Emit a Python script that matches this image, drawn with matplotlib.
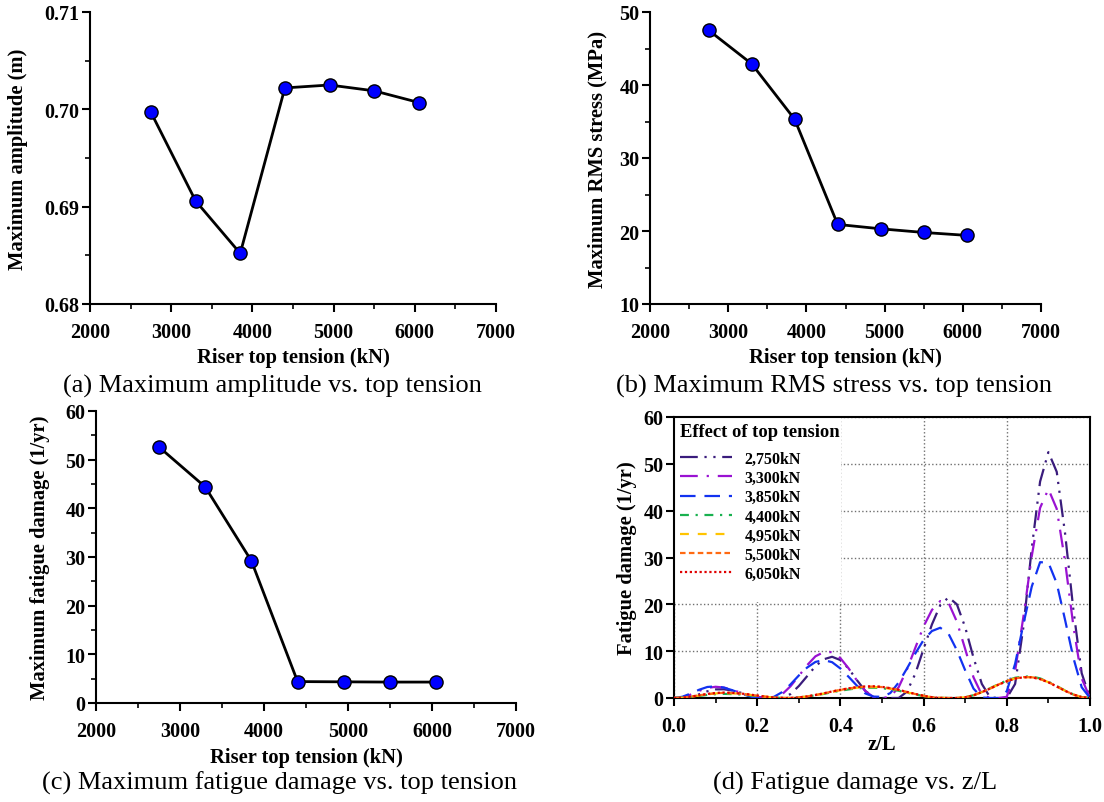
import matplotlib
matplotlib.use('Agg')
import matplotlib.pyplot as plt
import numpy as np
from matplotlib.patches import Rectangle
from matplotlib.ticker import MultipleLocator

plt.rcParams['font.family'] = ['Liberation Serif', 'DejaVu Serif']

# ---- data: panels (a)-(c) ----
tension = [2750, 3300, 3850, 4400, 4950, 5500, 6050]
max_amplitude = [0.6997, 0.6906, 0.6852, 0.7022, 0.7025, 0.7019, 0.7007]
max_rms_stress = [47.5, 42.9, 35.3, 20.9, 20.3, 19.8, 19.4]
max_fatigue = [52.6, 44.4, 29.2, 4.4, 4.35, 4.3, 4.3]

# ---- data: panel (d), fatigue damage along the riser ----
z_over_L = np.round(np.arange(51) * 0.02, 2)
dmg_2750 = [0, 0, 0.23, 0.78, 1.43, 1.84, 1.86, 1.6, 1.14, 0.63, 0.21, 0.01, 0, 0.03, 0.84, 2.55, 4.66,
            6.78, 8.27, 8.8, 8.1, 6.25, 3.78, 1.5, 0.18, 0, 0, 0, 1.35, 5.16, 10.5, 15.7, 19.8, 21.5,
            20.0, 15.1, 8.6, 3.0, 0.13, 0, 0, 3.0, 15.2, 32.0, 46.2, 52.5, 48.3, 35.2, 18.9, 5.3, 0]
dmg_3300 = [0, 0.14, 0.72, 1.51, 2.14, 2.4, 2.23, 1.75, 1.13, 0.5, 0.1, 0, 0.03, 0.8, 2.5, 4.7, 7.0,
            8.9, 9.8, 9.8, 8.5, 6.3, 3.7, 1.46, 0.17, 0, 0.27, 2.3, 6.1, 10.7, 15.3, 18.8, 20.7, 20.3,
            16.3, 10.45, 4.4, 0.7, 0, 0, 0.25, 5.8, 17.4, 30.3, 40.6, 44.6, 40.4, 29.2, 15.4, 4.2, 0]
dmg_3850 = [0, 0.26, 0.95, 1.75, 2.35, 2.49, 2.21, 1.67, 1.0, 0.4, 0.05, 0, 0.24, 1.26, 2.9, 4.8, 6.5,
            7.7, 8.1, 7.65, 6.3, 4.5, 2.6, 0.97, 0.3, 0.25, 1.05, 3.3, 6.3, 9.5, 12.4, 14.3, 15.0, 13.7,
            10.2, 5.9, 2.0, 0.1, 0, 0, 1.46, 7.3, 15.8, 23.8, 29.0, 28.9, 24.5, 16.7, 8.6, 2.3, 0]
dmg_4400 = [0, 0.06, 0.22, 0.44, 0.66, 0.82, 0.88, 0.84, 0.74, 0.58, 0.4, 0.22, 0.08, 0.01, 0.01, 0.11,
            0.31, 0.58, 0.88, 1.23, 1.56, 1.83, 2.06, 2.17, 2.2, 2.1, 1.85, 1.55, 1.14, 0.76, 0.42, 0.15,
            0.02, 0, 0, 0.15, 0.6, 1.3, 2.09, 2.97, 3.71, 4.32, 4.59, 4.58, 4.19, 3.48, 2.55, 1.6, 0.76,
            0.2, 0]
dmg_4950 = [0, 0.07, 0.27, 0.52, 0.79, 0.97, 1.05, 1.0, 0.87, 0.68, 0.48, 0.27, 0.1, 0.01, 0.01, 0.12,
            0.33, 0.61, 0.94, 1.32, 1.66, 1.95, 2.2, 2.31, 2.35, 2.24, 1.98, 1.65, 1.22, 0.82, 0.45, 0.16,
            0.02, 0, 0, 0.15, 0.58, 1.26, 2.03, 2.88, 3.6, 4.19, 4.46, 4.45, 4.07, 3.38, 2.48, 1.55, 0.74,
            0.19, 0]
dmg_5500 = [0, 0.07, 0.28, 0.55, 0.83, 1.02, 1.1, 1.05, 0.92, 0.72, 0.5, 0.28, 0.1, 0.01, 0.01, 0.12,
            0.34, 0.64, 0.98, 1.37, 1.73, 2.03, 2.29, 2.41, 2.45, 2.33, 2.06, 1.72, 1.27, 0.85, 0.47, 0.17,
            0.02, 0, 0, 0.15, 0.58, 1.26, 2.03, 2.88, 3.6, 4.19, 4.46, 4.45, 4.07, 3.38, 2.48, 1.55, 0.74,
            0.19, 0]
dmg_6050 = [0, 0.07, 0.29, 0.58, 0.87, 1.07, 1.16, 1.1, 0.97, 0.76, 0.53, 0.29, 0.11, 0.01, 0.01, 0.12,
            0.35, 0.65, 1.0, 1.4, 1.76, 2.07, 2.34, 2.46, 2.5, 2.38, 2.1, 1.75, 1.3, 0.87, 0.48, 0.17,
            0.02, 0, 0, 0.15, 0.57, 1.25, 2.01, 2.85, 3.56, 4.15, 4.42, 4.41, 4.03, 3.35, 2.46, 1.53, 0.73,
            0.19, 0]
case_labels = ['2,750kN', '3,300kN', '3,850kN', '4,400kN', '4,950kN', '5,500kN', '6,050kN']
case_colors = ['#3a1c7c', '#9a12d2', '#1232f0', '#19b14f', '#ffc400', '#ff6a12', '#e00000']
case_styles = [(0, (8, 3, 1, 3, 1, 3)), (0, (8, 4, 1, 4)), (0, (7, 4)), (0, (4, 3, 1, 3)),
               (0, (4, 4)), (0, (2.5, 1.5)), (0, (1, 1.2))]

W, H = 1104, 803
fig = plt.figure(figsize=(W / 100, H / 100), dpi=100)

TICK_FS = 14.5
LABEL_FS = 14.8


def px_axes(left, top, right, bottom):
    ax = fig.add_axes([left / W, 1 - bottom / H, (right - left) / W, (bottom - top) / H])
    ax._px = (left, top, right, bottom)
    return ax


def place_labels(ax, ylab_x, xlab_y):
    # axis label centres given in figure pixels
    left, top, right, bottom = ax._px
    ax.yaxis.set_label_coords((ylab_x - left) / (right - left), 0.5)
    ax.xaxis.set_label_coords(0.5, (bottom - xlab_y) / (bottom - top))


def style_axes(ax, full_box=False):
    for s in ['left', 'bottom', 'top', 'right']:
        ax.spines[s].set_linewidth(1.5)
    if not full_box:
        ax.spines['top'].set_visible(False)
        ax.spines['right'].set_visible(False)
    ax.tick_params(which='major', direction='out', length=6, width=1.5, labelsize=TICK_FS)
    ax.tick_params(which='minor', direction='out', length=3.5, width=1.2)
    ax.tick_params(axis='x', which='major', pad=7)
    ax.tick_params(axis='y', which='major', pad=1.5)
    for lab in ax.get_xticklabels() + ax.get_yticklabels():
        lab.set_fontweight('bold')


def tension_plot(ax, yvals, ylim, ymajor, ylabel, fmt=None):
    ax.plot(tension, yvals, color='black', lw=2, marker='o', ms=9.5,
            mfc='#0000ff', mec='black', mew=1)
    ax.set_xlim(2000, 7000)
    ax.set_ylim(*ylim)
    ax.xaxis.set_major_locator(MultipleLocator(1000))
    ax.xaxis.set_minor_locator(MultipleLocator(500))
    ax.yaxis.set_major_locator(MultipleLocator(ymajor))
    ax.yaxis.set_minor_locator(MultipleLocator(ymajor / 2))
    if fmt:
        ax.yaxis.set_major_formatter(fmt)
    ax.set_xlabel('Riser top tension (kN)', fontsize=LABEL_FS, fontweight='bold', va='center')
    ax.set_ylabel(ylabel, fontsize=LABEL_FS, fontweight='bold', va='center')
    style_axes(ax)


# (a)
ax_a = px_axes(90, 13, 496, 305)
tension_plot(ax_a, max_amplitude, (0.68, 0.71), 0.01, 'Maximum amplitude (m)',
             fmt=matplotlib.ticker.FormatStrFormatter('%.2f'))
place_labels(ax_a, 18, 358)
# (b)
ax_b = px_axes(650, 13, 1041, 305)
tension_plot(ax_b, max_rms_stress, (10, 50), 10, 'Maximum RMS stress (MPa)')
place_labels(ax_b, 597, 358)
# (c)
ax_c = px_axes(96, 412, 516, 704)
tension_plot(ax_c, max_fatigue, (0, 60), 10, 'Maximum fatigue damage (1/yr)')
place_labels(ax_c, 40, 758)

# (d)
ax_d = px_axes(674, 418, 1090, 699)
series = [dmg_2750, dmg_3300, dmg_3850, dmg_4400, dmg_4950, dmg_5500, dmg_6050]
for vals, lab, col, ls in zip(series, case_labels, case_colors, case_styles):
    ax_d.plot(z_over_L, vals, color=col, ls=ls, lw=1.6, label=lab, zorder=3)
ax_d.set_xlim(0, 1)
ax_d.set_ylim(0, 60)
ax_d.xaxis.set_major_locator(MultipleLocator(0.2))
ax_d.xaxis.set_minor_locator(MultipleLocator(0.1))
ax_d.yaxis.set_major_locator(MultipleLocator(10))
ax_d.xaxis.set_major_formatter(matplotlib.ticker.FormatStrFormatter('%.1f'))
ax_d.set_axisbelow(True)
ax_d.grid(True, which='major', ls=':', color='#707070', lw=1)
# white area behind the legend hides the grid there
ax_d.add_patch(Rectangle((0, 0.34), 0.402, 0.66, transform=ax_d.transAxes,
                         facecolor='white', edgecolor='none', zorder=1))
ax_d.set_xlabel('z/L', fontsize=LABEL_FS, fontweight='bold', va='center')
ax_d.set_ylabel('Fatigue damage (1/yr)', fontsize=LABEL_FS, fontweight='bold', va='center')
place_labels(ax_d, 627, 745)
style_axes(ax_d, full_box=True)
leg = ax_d.legend(loc='upper left', bbox_to_anchor=(0.0, 1.0), frameon=False,
                  title='Effect of top tension', alignment='left',
                  prop={'weight': 'bold', 'size': 11.5},
                  handlelength=3.2, handletextpad=0.8, labelspacing=0.2,
                  borderaxespad=0.0)
leg.get_title().set_fontweight('bold')
leg.get_title().set_fontsize(13.4)
leg._legend_box.sep = 7.5  # a bit more room under the title

# captions
cap = dict(fontsize=19, ha='center', va='center')
fig.text(272 / W, 1 - 386 / H, '(a) Maximum amplitude vs. top tension', **cap)
fig.text(834 / W, 1 - 386 / H, '(b) Maximum RMS stress vs. top tension', **cap)
fig.text(280 / W, 1 - 783 / H, '(c) Maximum fatigue damage vs. top tension', **cap)
fig.text(855 / W, 1 - 783 / H, '(d) Fatigue damage vs. z/L', **cap)

fig.savefig('out.png', dpi=100)
